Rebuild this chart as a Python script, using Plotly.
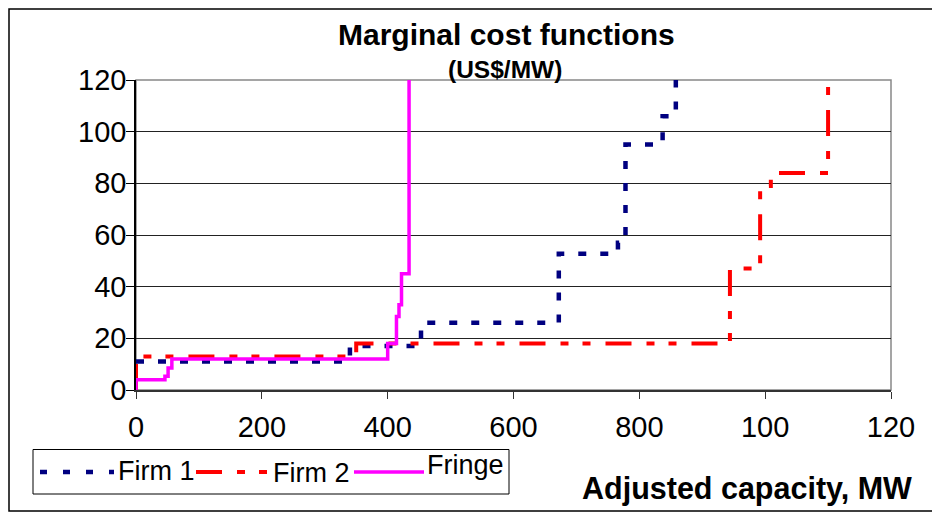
import plotly.graph_objects as go

# ---------------- data ----------------
firm1_x = [0, 340, 453, 672, 766, 778, 837, 858]
firm1_y = [11, 17, 26, 52.7, 57, 95, 106, 120]

firm2_x = [0, 0, 350, 944, 992, 1009, 1100]
firm2_y = [0, 13, 18, 47, 79, 84, 120]

fringe_x = [0, 0, 46, 51, 57, 400, 414, 418, 422, 434]
fringe_y = [0, 4, 5.3, 8.5, 12, 18, 28.5, 33, 45, 120]

x_tickvals = [0, 200, 400, 600, 800, 1000, 1200]
x_ticktext = ["0", "200", "400", "600", "800", "100", "120"]
y_tickvals = [0, 20, 40, 60, 80, 100, 120]

series_names = ["Firm 1", "Firm 2", "Fringe"]

# ---------------- layout geometry (pixels, page coordinates) ----------------
OFF = 8                      # default page body margin
W, H = 940 - OFF, 513 - OFF  # figure size
PL, PR, PT, PB = 136, 891, 80, 390  # plot area edges in page px

def px(xp):
    return (xp - PL) / (PR - PL)

def py(yp):
    return (PB - yp) / (PB - PT)

FONT = "Liberation Sans, Arial, sans-serif"
NAVY = "#000080"
RED = "#FF0000"
MAG = "#FF00FF"
DASH1 = "8px,14px"
DASH2 = "26px,15px,8px,14px,8px,15px"

fig = go.Figure()
fig.add_trace(go.Scatter(x=firm1_x, y=firm1_y, name=series_names[0], mode="lines",
                         line=dict(color=NAVY, width=4.5, dash=DASH1, shape="hv"),
                         showlegend=False))
fig.add_trace(go.Scatter(x=firm2_x, y=firm2_y, name=series_names[1], mode="lines",
                         line=dict(color=RED, width=4, dash=DASH2, shape="hv"),
                         showlegend=False))
fig.add_trace(go.Scatter(x=fringe_x, y=fringe_y, name=series_names[2], mode="lines",
                         line=dict(color=MAG, width=3.5, shape="hv"),
                         showlegend=False))

shapes = []
# plot-area grey frame (top/right)
shapes.append(dict(type="rect", xref="paper", yref="paper", x0=0, x1=1, y0=0, y1=1,
                   line=dict(color="#888888", width=1.5), layer="between"))
# outer chart border
shapes.append(dict(type="rect", xref="paper", yref="paper",
                   x0=px(OFF + 1), x1=px(946), y0=py(511), y1=py(OFF + 1),
                   line=dict(color="#000000", width=1.5), layer="below"))
# legend box
shapes.append(dict(type="rect", xref="paper", yref="paper",
                   x0=px(33), x1=px(509), y0=py(494), y1=py(449.5),
                   line=dict(color="#000000", width=1), fillcolor="white", layer="above"))
# legend symbols
shapes.append(dict(type="line", xref="paper", yref="paper", x0=px(40), x1=px(114),
                   y0=py(472), y1=py(472), line=dict(color=NAVY, width=4.5, dash="7px,16px"),
                   layer="above"))
shapes.append(dict(type="line", xref="paper", yref="paper", x0=px(196), x1=px(269),
                   y0=py(472), y1=py(472), line=dict(color=RED, width=4, dash=DASH2),
                   layer="above"))
shapes.append(dict(type="line", xref="paper", yref="paper", x0=px(354), x1=px(424),
                   y0=py(472), y1=py(472), line=dict(color=MAG, width=3.5),
                   layer="above"))

annotations = [
    dict(text="<b>Marginal cost functions</b>", x=px(506), y=py(35), xref="paper", yref="paper",
         showarrow=False, xanchor="center", yanchor="middle",
         font=dict(family=FONT, size=30, color="black")),
    dict(text="<b>(US$/MW)</b>", x=px(505), y=py(69), xref="paper", yref="paper",
         showarrow=False, xanchor="center", yanchor="middle",
         font=dict(family=FONT, size=24.5, color="black")),
    dict(text="<b>Adjusted capacity, MW</b>", x=px(914), y=py(488), xref="paper", yref="paper",
         showarrow=False, xanchor="right", yanchor="middle",
         font=dict(family=FONT, size=30.5, color="black")),
    dict(text=series_names[0], x=px(116), y=py(471), xref="paper", yref="paper",
         showarrow=False, xanchor="left", yanchor="middle",
         font=dict(family=FONT, size=27, color="black")),
    dict(text=series_names[1], x=px(271), y=py(473), xref="paper", yref="paper",
         showarrow=False, xanchor="left", yanchor="middle",
         font=dict(family=FONT, size=27, color="black")),
    dict(text=series_names[2], x=px(425), y=py(465), xref="paper", yref="paper",
         showarrow=False, xanchor="left", yanchor="middle",
         font=dict(family=FONT, size=27, color="black")),
]

fig.update_layout(
    width=W, height=H,
    margin=dict(l=PL - OFF, r=W - (PR - OFF), t=PT - OFF, b=H - (PB - OFF)),
    paper_bgcolor="white", plot_bgcolor="white",
    font=dict(family=FONT, color="black"),
    showlegend=False,
    shapes=shapes,
    annotations=annotations,
)
fig.update_xaxes(range=[0, 1200], tickvals=x_tickvals, ticktext=x_ticktext,
                 showgrid=False, zeroline=False,
                 showline=True, linecolor="#333333", linewidth=1.5,
                 ticks="outside", ticklen=7, tickcolor="#333333",
                 ticklabelstandoff=3,
                 tickfont=dict(family=FONT, size=29, color="black"))
fig.update_yaxes(range=[0, 120], tickvals=y_tickvals,
                 showgrid=True, gridcolor="#222222", gridwidth=1, zeroline=False,
                 showline=True, linecolor="#000000", linewidth=1.5,
                 ticks="outside", ticklen=8, tickcolor="#000000",
                 ticklabelstandoff=-6,
                 tickfont=dict(family=FONT, size=29, color="black"))

fig.write_html("out.html")
